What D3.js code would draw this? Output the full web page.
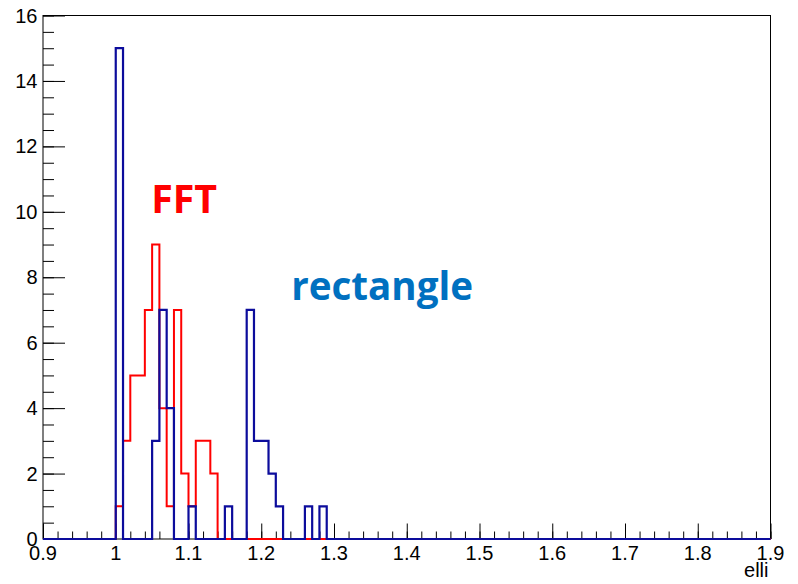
<!DOCTYPE html>
<html>
<head>
<meta charset="utf-8">
<script src="https://cdn.jsdelivr.net/npm/d3@7"></script>
<style>
  html, body { margin: 0; padding: 0; background: #fff; }
  svg { display: block; }
</style>
</head>
<body>
<svg id="chart" width="798" height="584"></svg>
<script>
// ---- data ----
// histogram "elli": 100 bins of width 0.01 on [0.9, 1.9]; only bins listed below are non-empty
const binLow = [1.00, 1.01, 1.02, 1.03, 1.04, 1.05, 1.06, 1.07, 1.08, 1.09,
                1.10, 1.11, 1.12, 1.13, 1.14, 1.15, 1.16, 1.17, 1.18, 1.19,
                1.20, 1.21, 1.22, 1.23, 1.24, 1.25, 1.26, 1.27, 1.28, 1.29];
const fftCounts = [1, 3, 5, 5, 7, 9, 4, 1, 7, 2,
                   1, 3, 3, 2, 0, 0, 0, 0, 0, 0,
                   0, 0, 0, 0, 0, 0, 0, 0, 0, 0];
const rectCounts = [15, 0, 0, 0, 0, 3, 7, 4, 0, 0,
                    1, 0, 0, 0, 0, 1, 0, 0, 7, 3,
                    3, 2, 1, 0, 0, 0, 1, 0, 1, 0];
const binWidth = 0.01;
const xDomain = [0.9, 1.9];
const yDomain = [0, 16];
const xTickLabels = ["0.9", "1", "1.1", "1.2", "1.3", "1.4", "1.5", "1.6", "1.7", "1.8", "1.9"];
const yTickLabels = ["0", "2", "4", "6", "8", "10", "12", "14", "16"];
const xTitle = "elli";
const labels = [
  { text: "FFT", color: "#ff0000" },
  { text: "rectangle", color: "#0070c0" }
];

// ---- layout ----
const margin = { left: 43, right: 27.5, top: 15.5, bottom: 45 };
const W = 798, H = 584;
const svg = d3.select("#chart");
svg.append("rect").attr("width", W).attr("height", H).attr("fill", "#fff");

const x = d3.scaleLinear().domain(xDomain).range([margin.left, W - margin.right]);
const y = d3.scaleLinear().domain(yDomain).range([H - margin.bottom, margin.top]);

const fontFam = "'Liberation Sans', Arial, Helvetica, sans-serif";

// frame
svg.append("rect")
  .attr("x", x(xDomain[0])).attr("y", y(yDomain[1]))
  .attr("width", x(xDomain[1]) - x(xDomain[0]))
  .attr("height", y(yDomain[0]) - y(yDomain[1]))
  .attr("fill", "none").attr("stroke", "#000").attr("stroke-width", 1);

// x axis (ticks inside, upward)
const xMajor = xTickLabels.map(d => +d);
const xMinor = d3.range(0, 51).map(i => 0.9 + i * 0.02);
const xAxisMinor = d3.axisTop(x).tickValues(xMinor).tickSize(7.5).tickFormat("");
const xAxisMajor = d3.axisTop(x).tickValues(xMajor).tickSize(15.5).tickFormat("");
[xAxisMinor, xAxisMajor].forEach(ax => {
  const g = svg.append("g").attr("transform", `translate(0,${y(0)})`).call(ax);
  g.select(".domain").remove();
  g.selectAll("line").attr("stroke", "#000").attr("stroke-width", 1);
});
svg.append("g").selectAll("text").data(xTickLabels).join("text")
  .attr("x", d => x(+d)).attr("y", y(0) + 20.5)
  .attr("text-anchor", "middle")
  .attr("font-family", fontFam).attr("font-size", 20)
  .attr("fill", "#000")
  .text(d => d);

// y axis (ticks inside, rightward)
const yMajor = yTickLabels.map(d => +d);
const yMinor = d3.range(0, 33).map(i => i * 0.5);
const yAxisMinor = d3.axisRight(y).tickValues(yMinor).tickSize(11).tickFormat("");
const yAxisMajor = d3.axisRight(y).tickValues(yMajor).tickSize(22).tickFormat("");
[yAxisMinor, yAxisMajor].forEach(ax => {
  const g = svg.append("g").attr("transform", `translate(${x(xDomain[0])},0)`).call(ax);
  g.select(".domain").remove();
  g.selectAll("line").attr("stroke", "#000").attr("stroke-width", 1);
});
svg.append("g").selectAll("text").data(yTickLabels).join("text")
  .attr("x", x(xDomain[0]) - 5.5).attr("y", d => y(+d) + 7)
  .attr("text-anchor", "end")
  .attr("font-family", fontFam).attr("font-size", 20)
  .attr("fill", "#000")
  .text(d => d);

// x title
svg.append("text")
  .attr("x", x(xDomain[1]) - 2).attr("y", H - 7)
  .attr("text-anchor", "end")
  .attr("font-family", fontFam).attr("font-size", 20)
  .attr("fill", "#000")
  .text(xTitle);

// histogram step outlines
function stepPoints(counts) {
  const pts = [[xDomain[0], 0]];
  let prev = 0;
  binLow.forEach((lo, i) => {
    const c = counts[i];
    if (c !== prev) { pts.push([lo, prev]); pts.push([lo, c]); }
    prev = c;
  });
  const end = binLow[binLow.length - 1] + binWidth;
  if (prev !== 0) { pts.push([end, prev]); pts.push([end, 0]); }
  pts.push([xDomain[1], 0]);
  return pts;
}
const line = d3.line().x(d => x(d[0])).y(d => y(d[1]));

svg.append("path").datum(stepPoints(fftCounts))
  .attr("d", line).attr("fill", "none")
  .attr("stroke", "#ff0000").attr("stroke-width", 2).attr("stroke-linejoin", "miter");
svg.append("path").datum(stepPoints(rectCounts))
  .attr("d", line).attr("fill", "none")
  .attr("stroke", "#0c0c9c").attr("stroke-width", 2.2).attr("stroke-linejoin", "miter");

// annotations: fit to the widths seen in the reference
const labelFont = "'Open Sans', Lato, sans-serif";
function fitLabel(lbl, left, baseline, targetW, startSize) {
  const t = svg.append("text").attr("x", left).attr("y", baseline)
    .attr("font-family", labelFont).attr("font-weight", "bold").attr("font-size", startSize)
    .attr("fill", lbl.color).text(lbl.text);
  let bb = t.node().getBBox();
  const size = startSize * targetW / bb.width;
  t.attr("font-size", size);
  bb = t.node().getBBox();
  // glyph side bearing compensation
  t.attr("x", left - (bb.x - left) * 0 - size * 0.04);
  return t;
}
fitLabel(labels[0], 152.7, 212.7, 66, 40);
fitLabel(labels[1], 292.7, 300, 182, 37);
</script>
</body>
</html>
